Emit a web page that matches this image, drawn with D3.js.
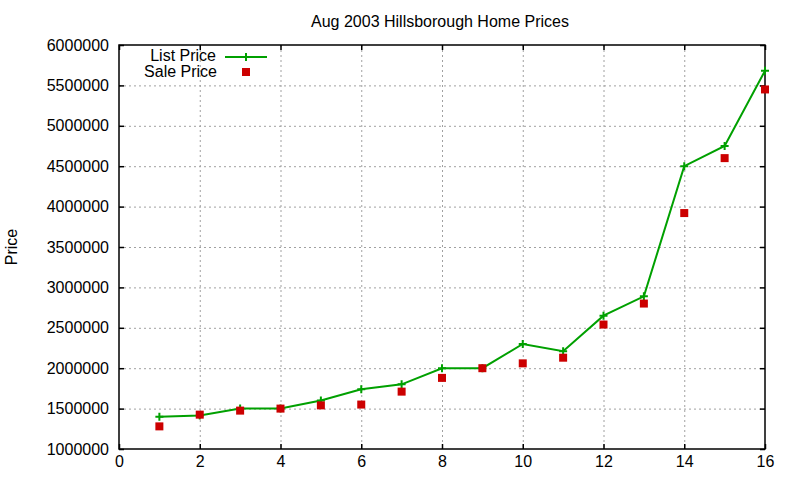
<!DOCTYPE html>
<html>
<head>
<meta charset="utf-8">
<script src="https://cdn.jsdelivr.net/npm/d3@7"></script>
<style>
  body { margin: 0; background: #fff; }
  text { font-family: "Liberation Sans", Arial, sans-serif; fill: #000; }
</style>
</head>
<body>
<div id="chart"></div>
<script>
const houses = [1, 2, 3, 4, 5, 6, 7, 8, 9, 10, 11, 12, 13, 14, 15, 16];
const listPrice = [1400000, 1415000, 1500000, 1500000, 1600000, 1740000, 1800000, 2000000,
                   2000000, 2300000, 2210000, 2650000, 2890000, 4500000, 4750000, 5680000];
const salePrice = [1280000, 1425000, 1475000, 1500000, 1540000, 1550000, 1710000, 1880000,
                   2000000, 2060000, 2130000, 2540000, 2800000, 3920000, 4600000, 5450000];
const xTicks = [0, 2, 4, 6, 8, 10, 12, 14, 16];
const yTicks = [1000000, 1500000, 2000000, 2500000, 3000000, 3500000, 4000000, 4500000, 5000000, 5500000, 6000000];

const width = 800, height = 480;
const margin = {top: 45, right: 35, bottom: 31, left: 119};
const fontSize = '16px';

const svg = d3.select('#chart').append('svg')
  .attr('width', width)
  .attr('height', height);

const x = d3.scaleLinear().domain([0, 16]).range([margin.left, width - margin.right]);
const y = d3.scaleLinear().domain([1000000, 6000000]).range([height - margin.bottom, margin.top]);

// grid
const grid = svg.append('g')
  .attr('stroke', '#a0a0a0')
  .attr('stroke-width', 1)
  .attr('stroke-dasharray', '2,3');
grid.selectAll('.gx').data(xTicks.slice(1, -1)).enter().append('line')
  .attr('x1', d => x(d) + 0.5).attr('x2', d => x(d) + 0.5)
  .attr('y1', y.range()[1]).attr('y2', y.range()[0]);
grid.selectAll('.gy').data(yTicks.slice(1, -1)).enter().append('line')
  .attr('x1', x.range()[0]).attr('x2', x.range()[1])
  .attr('y1', d => y(d) + 0.5).attr('y2', d => y(d) + 0.5);

// axes: gnuplot style, inward ticks, mirrored
const tick = 5;
svg.append('g')
  .attr('transform', `translate(0,${y.range()[0]})`)
  .call(d3.axisBottom(x).tickValues(xTicks).tickSize(-tick).tickPadding(7))
  .call(g => g.select('.domain').remove());
svg.append('g')
  .attr('transform', `translate(0,${y.range()[1]})`)
  .call(d3.axisTop(x).tickValues(xTicks).tickSize(-tick).tickFormat(''))
  .call(g => g.select('.domain').remove());
svg.append('g')
  .attr('transform', `translate(${x.range()[0]},0)`)
  .call(d3.axisLeft(y).tickValues(yTicks).tickSize(-tick).tickPadding(10).tickFormat(d3.format('d')))
  .call(g => g.select('.domain').remove());
svg.append('g')
  .attr('transform', `translate(${x.range()[1]},0)`)
  .call(d3.axisRight(y).tickValues(yTicks).tickSize(-tick).tickFormat(''))
  .call(g => g.select('.domain').remove());

svg.selectAll('.tick line').attr('stroke', '#000').attr('stroke-width', 1.5);
svg.selectAll('.tick text').style('font-size', fontSize).style('font-family', '"Liberation Sans", Arial, sans-serif');

svg.append('rect')
  .attr('x', x.range()[0]).attr('y', y.range()[1])
  .attr('width', x.range()[1] - x.range()[0])
  .attr('height', y.range()[0] - y.range()[1])
  .attr('fill', 'none').attr('stroke', '#000').attr('stroke-width', 1.5);

// list price line
const green = '#00a000', red = '#cc0000';
const line = d3.line().x((d, i) => x(houses[i])).y(d => y(d));
svg.append('path')
  .datum(listPrice)
  .attr('d', line)
  .attr('fill', 'none')
  .attr('stroke', green)
  .attr('stroke-width', 2);

const plus = (g, cx, cy) => g.append('path')
  .attr('d', `M${cx - 4},${cy}H${cx + 4}M${cx},${cy - 4}V${cy + 4}`)
  .attr('stroke', green).attr('stroke-width', 2);

const marks = svg.append('g');
listPrice.forEach((d, i) => plus(marks, x(houses[i]), y(d)));

svg.append('g').selectAll('rect').data(salePrice).enter().append('rect')
  .attr('x', (d, i) => x(houses[i]) - 4)
  .attr('y', d => y(d) - 4)
  .attr('width', 8).attr('height', 8)
  .attr('fill', red);

// legend
const legend = svg.append('g').style('font-size', fontSize);
legend.append('text').attr('x', 216).attr('y', 61).attr('text-anchor', 'end').text('List Price');
legend.append('line').attr('x1', 225).attr('x2', 267).attr('y1', 57).attr('y2', 57)
  .attr('stroke', green).attr('stroke-width', 2);
plus(legend, 246, 57);
legend.append('text').attr('x', 217).attr('y', 77).attr('text-anchor', 'end').text('Sale Price');
legend.append('rect').attr('x', 242).attr('y', 68).attr('width', 8).attr('height', 8).attr('fill', red);

// titles
svg.append('text')
  .attr('x', 440).attr('y', 27)
  .attr('text-anchor', 'middle').style('font-size', fontSize)
  .text('Aug 2003 Hillsborough Home Prices');
svg.append('text')
  .attr('transform', `translate(17,${(y.range()[0] + y.range()[1]) / 2}) rotate(-90)`)
  .attr('text-anchor', 'middle').style('font-size', fontSize)
  .text('Price');
</script>
</body>
</html>
